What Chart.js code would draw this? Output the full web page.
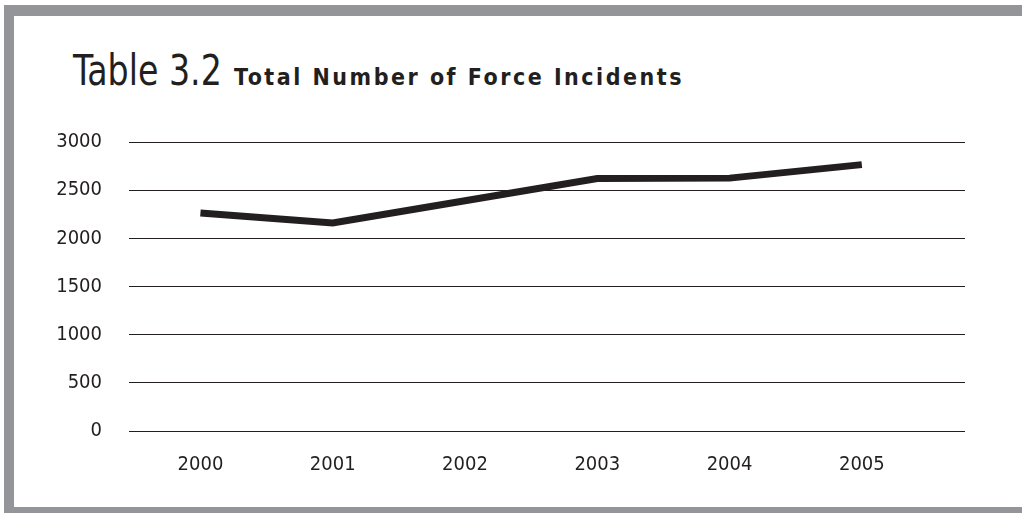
<!DOCTYPE html>
<html>
<head>
<meta charset="utf-8">
<title>Total Number of Force Incidents</title>
<script src="https://cdn.jsdelivr.net/npm/chart.js@4.4.1/dist/chart.umd.min.js"></script>
<style>
  html, body { margin: 0; padding: 0; background: #fff; }
  #page { position: relative; width: 1022px; height: 513px; overflow: hidden; }
  .band { position: absolute; background: #939598; }
  #band-top    { left: 4px;  top: 5px;   width: 1018px; height: 11px; }
  #band-left   { left: 4px;  top: 5px;   width: 10px;   height: 508px; }
  #band-bottom { left: 4px;  top: 507px; width: 1018px; height: 6px; }
  #heading {
    position: absolute; left: 73px; top: 46px; margin: 0;
    color: #231f20; white-space: nowrap;
    font-family: "Liberation Sans Narrow", "DejaVu Sans Condensed", sans-serif;
  }
  #heading .num {
    display: inline-block; font-size: 42px; font-weight: normal;
    transform: scaleX(0.88); transform-origin: left center; margin-right: -20px;
  }
  #heading .name { font-size: 23px; font-weight: bold; letter-spacing: 2.5px; margin-left: 12px; }
  #chart { position: absolute; left: 0; top: 0; }
</style>
</head>
<body>
<div id="page">
  <div class="band" id="band-top"></div>
  <div class="band" id="band-left"></div>
  <div class="band" id="band-bottom"></div>
  <h1 id="heading"><span class="num">Table 3.2</span><span class="name">Total Number of Force Incidents</span></h1>
  <canvas id="chart" width="1022" height="513"></canvas>
</div>
<script>
/* ── Data ── */
const years     = [2000, 2001, 2002, 2003, 2004, 2005];
const incidents = [2263, 2160, 2390, 2620, 2625, 2765];
const yTicks    = [0, 500, 1000, 1500, 2000, 2500, 3000];

const ink  = '#231f20';
const font = { family: '"Liberation Sans Narrow", "DejaVu Sans Condensed", sans-serif', size: 20 };

/* ── Chart ── */
new Chart(document.getElementById('chart'), {
  type: 'line',
  data: {
    datasets: [{
      data:            years.map((y, i) => ({ x: y, y: incidents[i] })),
      borderColor:     ink,
      borderWidth:     7,
      borderCapStyle:  'butt',
      borderJoinStyle: 'miter',
      pointRadius:     0,
      tension:         0,
      fill:            false,
    }],
  },
  options: {
    responsive: false,
    animation: false,
    events: [],
    layout: { padding: { top: 142, right: 57, bottom: 32, left: 0 } },
    plugins: { legend: { display: false }, tooltip: { enabled: false } },
    scales: {
      x: {
        type: 'linear',
        min: 1999.46,
        max: 2005.78,
        afterBuildTicks: axis => { axis.ticks = years.map(v => ({ value: v })); },
        afterFit: axis => { axis.height = 50; },
        grid:   { display: false },
        border: { display: false },
        ticks:  { color: ink, font, padding: 14, maxRotation: 0, callback: v => String(v) },
      },
      y: {
        min: 0,
        max: 3000,
        afterBuildTicks: axis => { axis.ticks = yTicks.map(v => ({ value: v })); },
        afterFit: axis => { axis.width = 129; },
        grid:   { color: ink, lineWidth: 1, drawTicks: false },
        border: { display: false },
        ticks:  { color: ink, font, padding: 27, callback: v => String(v) },
      },
    },
  },
});
</script>
</body>
</html>
